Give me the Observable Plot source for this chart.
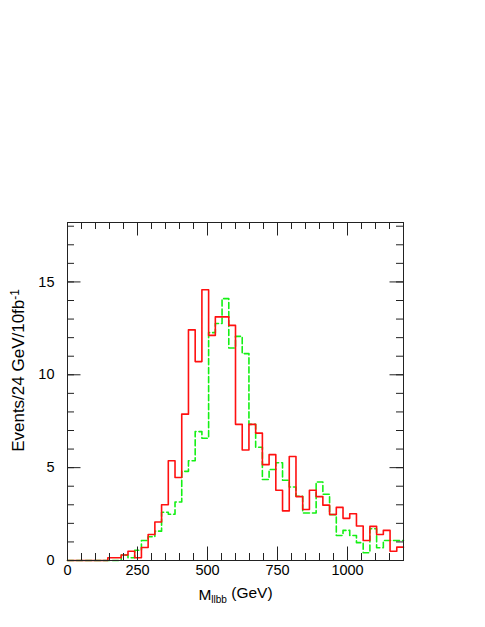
<!DOCTYPE html>
<html>
<head>
<meta charset="utf-8">
<script src="https://cdn.jsdelivr.net/npm/d3@7"></script>
<script src="https://cdn.jsdelivr.net/npm/@observablehq/plot@0.6"></script>
<style>
  html, body { margin: 0; padding: 0; background: #fff; }
</style>
</head>
<body>
<div id="chart"></div>
<script>
// ---- data ----
const binWidth = 24;            // GeV
const massMax = 1200;           // GeV
const binStarts = d3.range(0, massMax, binWidth);   // 50 bins

// red solid histogram
const redValues = [
  0, 0, 0, 0, 0, 0, 0.15, 0.15, 0.3, 0.5,
  0.15, 0.7, 1.4, 2.07, 3.0, 5.37, 4.47, 7.88, 12.42, 10.71,
  14.58, 12.12, 13.12, 13.12, 12.66, 7.33, 5.95, 7.33, 6.86, 5.16,
  5.7, 3.78, 2.67, 5.6, 3.44, 2.75, 3.78, 3.44, 2.98, 2.48,
  2.86, 2.27, 2.52, 1.86, 1.08, 1.84, 1.4, 1.62, 0.5, 0.72
];
// green dashed histogram
const greenValues = [
  0, 0, 0, 0, 0, 0, 0, 0, 0.3, 0.15,
  0.55, 1.08, 1.28, 1.58, 2.6, 2.49, 3.15, 4.8, 5.37, 6.94,
  6.58, 12.27, 12.76, 14.1, 11.44, 12.07, 11.14, 7.33, 6.1, 4.36,
  4.9, 5.26, 4.32, 3.96, 3.46, 2.56, 2.56, 4.23, 3.57, 2.47,
  1.35, 1.62, 1.35, 0.96, 0.42, 1.71, 0.69, 1.08, 1.08, 1.08
];

const xMajorTicks = [0, 250, 500, 750, 1000];
const xMinorTicks = d3.range(0, 1201, 50);
const yMajorTicks = [0, 5, 10, 15];
const yMinorTicks = d3.range(0, 19, 1);
const yMax = 18.2;

const yLabelMain = "Events/24 GeV/10fb";
const yLabelSup = "-1";
const xLabelMain = "M";
const xLabelSub = "llbb";
const xLabelUnit = " (GeV)";

// ---- layout ----
const W = 485, H = 627;
const mL = 67, mR = 82, mT = 222, mB = 67;
const plotH = H - mT - mB;
const plotW = W - mL - mR;
const majorLen = 13.5, minorLen = 7;
const tickColor = "#222";

function steps(values) {
  const pts = binStarts.map((x, i) => ({x, y: values[i]}));
  pts.push({x: binStarts[binStarts.length - 1] + binWidth, y: values[values.length - 1]});
  return pts;
}

const font = "'Liberation Sans', Arial, Helvetica, sans-serif";

const chart = Plot.plot({
  width: W,
  height: H,
  marginLeft: mL,
  marginRight: mR,
  marginTop: mT,
  marginBottom: mB,
  style: {fontFamily: font, background: "white", color: "black"},
  x: {domain: [0, massMax], axis: null},
  y: {domain: [0, yMax], axis: null},
  marks: [
    // histograms
    Plot.line(steps(greenValues), {x: "x", y: "y", curve: "step-after", stroke: "#14f014", strokeWidth: 1.6, strokeDasharray: "6,3"}),
    Plot.line(steps(redValues), {x: "x", y: "y", curve: "step-after", stroke: "#ff1010", strokeWidth: 1.6}),
    // frame
    Plot.frame({stroke: tickColor, strokeWidth: 1}),
    // x ticks bottom and top (inward)
    Plot.tickX(xMinorTicks, {x: d => d, insetTop: plotH - minorLen, stroke: tickColor}),
    Plot.tickX(xMajorTicks, {x: d => d, insetTop: plotH - majorLen, stroke: tickColor}),
    Plot.tickX(xMinorTicks, {x: d => d, insetBottom: plotH - minorLen, stroke: tickColor}),
    Plot.tickX(xMajorTicks, {x: d => d, insetBottom: plotH - majorLen, stroke: tickColor}),
    // y ticks left and right (inward)
    Plot.tickY(yMinorTicks, {y: d => d, insetRight: plotW - minorLen, stroke: tickColor}),
    Plot.tickY(yMajorTicks, {y: d => d, insetRight: plotW - majorLen, stroke: tickColor}),
    Plot.tickY(yMinorTicks, {y: d => d, insetLeft: plotW - minorLen, stroke: tickColor}),
    Plot.tickY(yMajorTicks, {y: d => d, insetLeft: plotW - majorLen, stroke: tickColor}),
    // tick labels
    Plot.axisX(xMajorTicks, {anchor: "bottom", tickSize: 0, tickPadding: 4, fontSize: 14.5, tickFormat: d => String(d), label: null, fill: "black"}),
    Plot.axisY(yMajorTicks, {anchor: "left", tickSize: 0, tickPadding: 13, fontSize: 14.5, tickFormat: d => String(d), label: null, fill: "black"}),
    // axis titles (sub/superscripts added after render)
    Plot.text([yLabelMain + yLabelSup], {frameAnchor: "left", text: d => d, textAnchor: "middle", rotate: -90, dx: -49, dy: -21, fontSize: 17, fill: "black"}),
    Plot.text([xLabelMain + xLabelSub + xLabelUnit], {frameAnchor: "bottom", text: d => d, textAnchor: "middle", dy: 39, fontSize: 15.5, fill: "black", lineAnchor: "bottom"})
  ]
});

// rich text for axis titles
const svg = d3.select(chart);
svg.selectAll("text").each(function() {
  const t = d3.select(this);
  const s = t.text();
  if (s === yLabelMain + yLabelSup) {
    t.text(null);
    t.append("tspan").text(yLabelMain);
    t.append("tspan").attr("dy", "-0.45em").attr("font-size", "0.7em").text(yLabelSup);
  } else if (s === xLabelMain + xLabelSub + xLabelUnit) {
    t.text(null);
    t.append("tspan").text(xLabelMain);
    t.append("tspan").attr("dy", "0.3em").attr("font-size", "0.65em").text(xLabelSub);
    t.append("tspan").attr("dy", "-0.3em").text(xLabelUnit);
  }
});

document.getElementById("chart").appendChild(chart);
</script>
</body>
</html>
